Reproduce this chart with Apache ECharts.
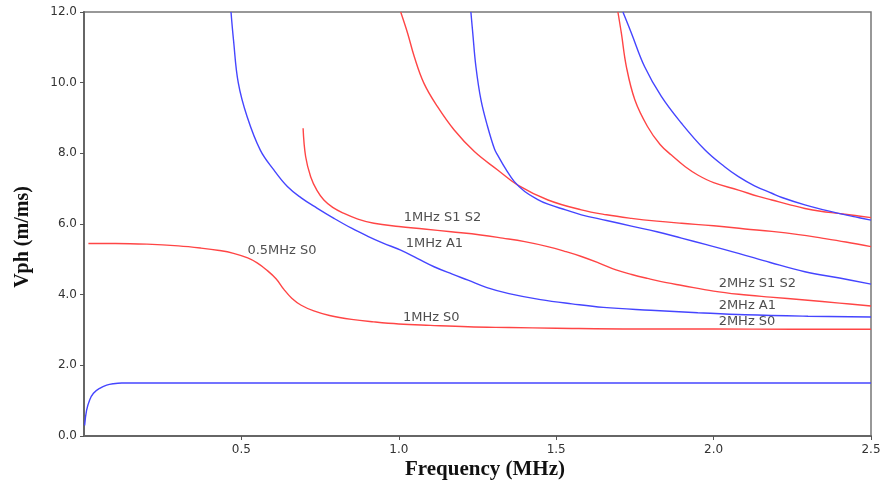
<!DOCTYPE html>
<html>
<head>
<meta charset="utf-8">
<script src="https://cdn.jsdelivr.net/npm/echarts@6/dist/echarts.min.js"></script>
<style>html,body{margin:0;padding:0;background:#fff}#c{width:880px;height:484px}</style>
</head>
<body>
<div id="c"></div>
<script>
// Dispersion curves: [frequency MHz, Vph m/ms]
var curveA0 = [[0.002,0.3],[0.008,0.72],[0.018,1.02],[0.03,1.21],[0.05,1.35],[0.072,1.44],[0.093,1.48],[0.12,1.5],[0.5,1.5],[1.0,1.5],[1.5,1.5],[2.0,1.5],[2.5,1.5]];
var curveS0 = [[0.014,5.45],[0.1,5.45],[0.2,5.43],[0.3,5.38],[0.37,5.32],[0.43,5.25],[0.475,5.17],[0.52,5.04],[0.55,4.9],[0.58,4.7],[0.61,4.45],[0.635,4.15],[0.66,3.9],[0.69,3.7],[0.73,3.54],[0.78,3.41],[0.85,3.3],[0.92,3.23],[1.0,3.17],[1.1,3.13],[1.22,3.09],[1.35,3.07],[1.5,3.05],[1.75,3.03],[2.0,3.03],[2.25,3.02],[2.5,3.02]];
var curveA1 = [[0.467,12],[0.475,11.2],[0.49,10.0],[0.518,9.04],[0.56,8.09],[0.603,7.53],[0.646,7.06],[0.69,6.74],[0.74,6.45],[0.794,6.16],[0.85,5.88],[0.9,5.66],[0.95,5.46],[1.006,5.26],[1.06,5.02],[1.112,4.79],[1.17,4.58],[1.22,4.41],[1.28,4.2],[1.35,4.03],[1.45,3.86],[1.55,3.74],[1.65,3.64],[1.8,3.56],[1.95,3.49],[2.1,3.43],[2.3,3.39],[2.5,3.37]];
var curveS1 = [[0.696,8.71],[0.704,7.91],[0.72,7.34],[0.74,6.95],[0.762,6.68],[0.79,6.47],[0.826,6.3],[0.87,6.14],[0.921,6.02],[1.0,5.93],[1.08,5.86],[1.166,5.78],[1.26,5.69],[1.33,5.6],[1.4,5.5],[1.473,5.36],[1.53,5.22],[1.58,5.08],[1.64,4.88],[1.69,4.7],[1.74,4.57],[1.79,4.46],[1.85,4.34],[1.9,4.26],[2.0,4.1],[2.08,4.01],[2.18,3.93],[2.29,3.85],[2.4,3.76],[2.5,3.68]];
var curveS2 = [[1.006,12],[1.028,11.4],[1.049,10.74],[1.08,9.98],[1.123,9.32],[1.176,8.66],[1.24,8.05],[1.314,7.53],[1.378,7.1],[1.474,6.68],[1.58,6.4],[1.66,6.26],[1.739,6.16],[1.82,6.08],[1.898,6.02],[2.0,5.95],[2.1,5.86],[2.185,5.79],[2.27,5.7],[2.344,5.6],[2.42,5.49],[2.5,5.36]];
var curveA2 = [[1.229,12],[1.235,11.4],[1.245,10.45],[1.261,9.51],[1.282,8.76],[1.304,8.12],[1.314,7.95],[1.34,7.55],[1.367,7.2],[1.4,6.92],[1.44,6.7],[1.474,6.56],[1.53,6.4],[1.58,6.26],[1.66,6.1],[1.739,5.94],[1.82,5.78],[1.898,5.6],[1.98,5.41],[2.079,5.17],[2.18,4.91],[2.29,4.65],[2.4,4.47],[2.5,4.3]];
var curveS3 = [[1.696,12],[1.707,11.4],[1.723,10.45],[1.75,9.51],[1.79,8.76],[1.83,8.25],[1.866,7.95],[1.91,7.62],[1.951,7.38],[2.0,7.17],[2.079,6.96],[2.142,6.78],[2.185,6.68],[2.24,6.55],[2.29,6.44],[2.34,6.36],[2.397,6.3],[2.45,6.24],[2.5,6.18]];
var curveA3 = [[1.712,12],[1.739,11.4],[1.781,10.45],[1.834,9.61],[1.898,8.85],[1.972,8.1],[2.035,7.62],[2.079,7.34],[2.13,7.08],[2.185,6.87],[2.217,6.75],[2.29,6.54],[2.35,6.4],[2.397,6.3],[2.45,6.2],[2.5,6.11]];

var labelTexts = ['0.5MHz S0','1MHz S1 S2','1MHz A1','1MHz S0','2MHz S1 S2','2MHz A1','2MHz S0'];
var labelX = [0.519,1.016,1.022,1.013,2.016,2.016,2.016];
var labelY = [5.26,6.17,5.44,3.35,4.3,3.68,3.24];

var xTicks = [0.5,1.0,1.5,2.0,2.5];
var yTicks = [0,2,4,6,8,10,12];

var RED = '#ff4545', BLUE = '#4545ff';
function line(data, color){
  return {type:'line', data:data, showSymbol:false, symbol:'none', smooth:0.4, clip:true,
          lineStyle:{color:color, width:1.4}, silent:true};
}
var labelData = labelTexts.map(function(t,i){ return {value:[labelX[i], labelY[i]], name:t}; });

var chart = echarts.init(document.getElementById('c'), null, {renderer:'canvas'});
chart.setOption({
  animation:false,
  backgroundColor:'#fff',
  grid:{left:84, right:9, top:12, bottom:48, outerBoundsMode:'none', show:true, borderColor:'#777', borderWidth:1.5, backgroundColor:'transparent'},
  xAxis:{type:'value', min:0, max:2.5, interval:0.5,
    axisLine:{show:true, lineStyle:{color:'#666', width:2}},
    axisTick:{show:true, length:4, lineStyle:{color:'#555'}},
    splitLine:{show:false},
    axisLabel:{showMinLabel:false, margin:8, color:'#333', fontFamily:'DejaVu Sans', fontSize:12,
      formatter:function(v){ return xTicks.indexOf(v)>=0 ? v.toFixed(1) : ''; }}
  },
  yAxis:{type:'value', min:0, max:12, interval:2,
    axisLine:{show:true, lineStyle:{color:'#666', width:2}},
    axisTick:{show:true, length:4, lineStyle:{color:'#555'}},
    splitLine:{show:false},
    axisLabel:{margin:7, color:'#333', fontFamily:'DejaVu Sans', fontSize:12,
      formatter:function(v){ return yTicks.indexOf(v)>=0 ? v.toFixed(1) : ''; }}
  },
  graphic:[
    {type:'text', x:23, y:237, rotation:Math.PI/2,
      style:{text:'Vph (m/ms)', fill:'#111', font:'bold 20px "Liberation Serif"', align:'center', verticalAlign:'middle'}},
    {type:'text', x:485, y:470,
      style:{text:'Frequency (MHz)', fill:'#111', font:'bold 21px "Liberation Serif"', align:'center', verticalAlign:'middle'}}
  ],
  series:[
    line(curveA0, BLUE),
    line(curveS0, RED),
    line(curveA1, BLUE),
    line(curveS1, RED),
    line(curveS2, RED),
    line(curveA2, BLUE),
    line(curveS3, RED),
    line(curveA3, BLUE),
    {type:'scatter', data:labelData, symbolSize:0, silent:true,
      label:{show:true, position:'right', distance:0, formatter:function(p){return p.name;},
        color:'#222', fontFamily:'DejaVu Sans', fontSize:13}}
  ]
});
</script>
</body>
</html>
